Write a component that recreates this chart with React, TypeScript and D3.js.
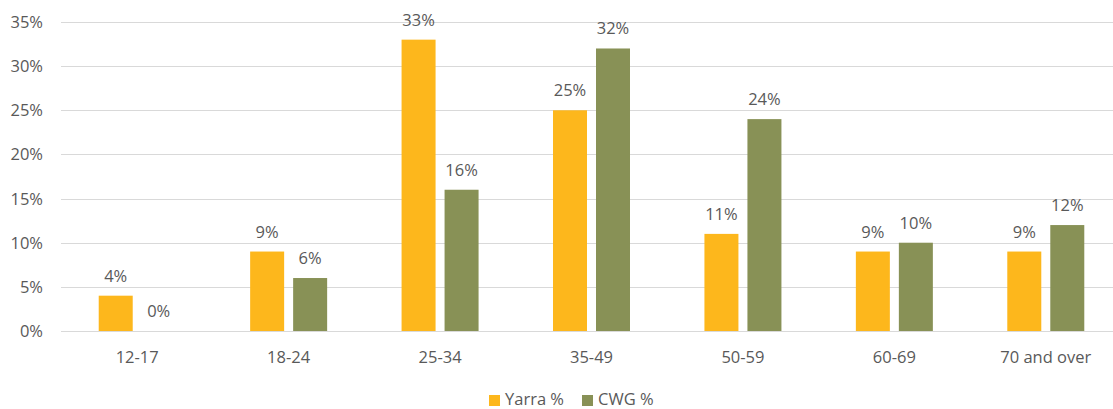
import React from "react";
import * as d3 from "d3";

const categories = ["12-17", "18-24", "25-34", "35-49", "50-59", "60-69", "70 and over"];
const yarraValues = [4, 9, 33, 25, 11, 9, 9];
const cwgValues = [0, 6, 16, 32, 24, 10, 12];
const seriesNames = ["Yarra %", "CWG %"];
const yTicks = [0, 5, 10, 15, 20, 25, 30, 35];

const WIDTH = 1113;
const HEIGHT = 409;
const COLORS = ["#FDB71C", "#889156"];
const TEXT = "#595959";
const GRID = "#D9D9D9";
const FONT = "'Open Sans', sans-serif";
const FS = 16.5;

export default function App() {
  const x = d3.scaleBand<string>().domain(categories).range([61.5, 1121.5]);
  const y = d3.scaleLinear().domain([0, 35]).range([331, 22]);
  const barW = 34;
  const gap = 9;
  const series = [yarraValues, cwgValues];

  return (
    <svg
      width={WIDTH}
      height={HEIGHT}
      style={{ position: "absolute", left: 0, top: 0, background: "#fff" }}
      fontFamily={FONT}
    >
      {yTicks.map((t) => (
        <g key={t}>
          <line x1={61} x2={WIDTH} y1={Math.round(y(t)) + 0.5} y2={Math.round(y(t)) + 0.5} stroke={GRID} strokeWidth={1} />
          <text x={43} y={y(t)} dy="0.36em" textAnchor="end" fontSize={FS} fill={TEXT}>
            {t}%
          </text>
        </g>
      ))}
      {categories.map((c, i) => {
        const cx = (x(c) as number) + x.bandwidth() / 2;
        return (
          <g key={c}>
            {series.map((vals, s) => {
              const bx = s === 0 ? cx - gap / 2 - barW : cx + gap / 2;
              const v = vals[i];
              return (
                <g key={s}>
                  <rect x={bx} y={y(v)} width={barW} height={y(0) - y(v)} fill={COLORS[s]} />
                  <text x={bx + barW / 2} y={y(v) - 14} textAnchor="middle" fontSize={FS} fill={TEXT}>
                    {v}%
                  </text>
                </g>
              );
            })}
            <text x={cx} y={363} textAnchor="middle" fontSize={FS} fill={TEXT}>
              {c}
            </text>
          </g>
        );
      })}
      {seriesNames.map((n, s) => {
        const lx = s === 0 ? 489 : 582;
        return (
          <g key={n}>
            <rect x={lx} y={395} width={11} height={11} fill={COLORS[s]} />
            <text x={lx + 16} y={405} fontSize={FS} fill={TEXT}>
              {n}
            </text>
          </g>
        );
      })}
    </svg>
  );
}
